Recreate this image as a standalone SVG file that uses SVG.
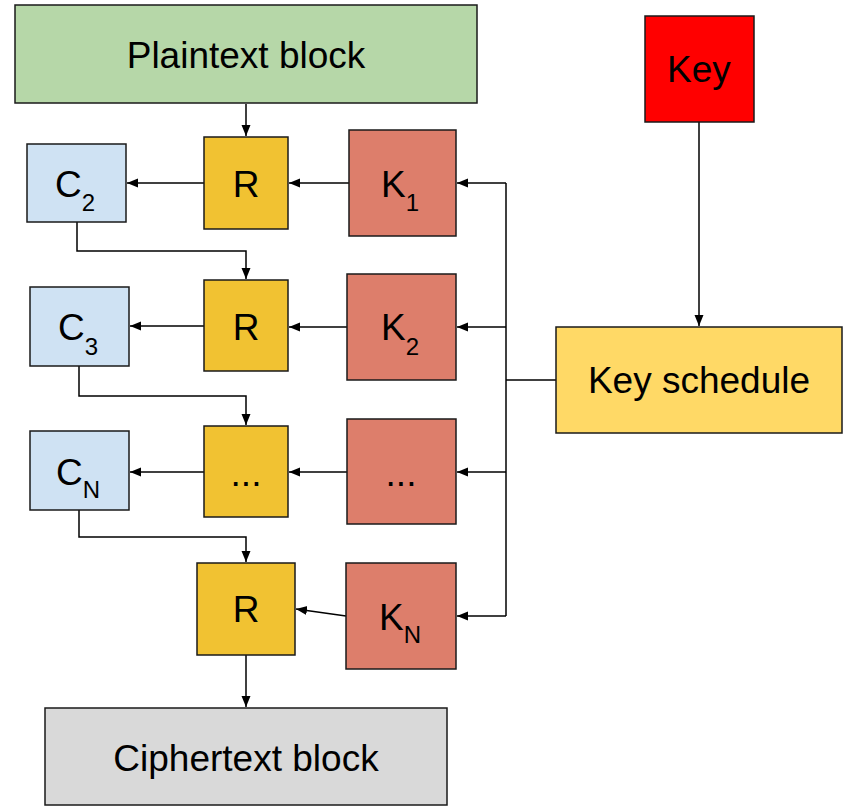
<svg xmlns="http://www.w3.org/2000/svg" width="843" height="806" viewBox="0 0 843 806">
<defs>
<style>
.box{stroke:#1a1a1a;stroke-width:1.5}
.t{font-family:"Liberation Sans",Arial,sans-serif;font-size:37px;fill:#000}
.s{font-size:24px}
.c{text-anchor:middle}
.ln{fill:none;stroke:#000;stroke-width:1.5}
.g{fill:#b6d7a8}.y{fill:#f1c232}.b{fill:#cfe2f3}.k{fill:#dd7e6b}.r{fill:#ff0000}.ks{fill:#ffd966}.gr{fill:#d9d9d9}
</style>
<marker id="a" markerUnits="userSpaceOnUse" markerWidth="11" markerHeight="10" refX="11" refY="4.5" orient="auto">
<path d="M0,0 L11,4.5 L0,9 z" fill="#000"/>
</marker>
</defs>
<rect width="843" height="806" fill="#fff"/>
<g id="connectors">
<path class="ln" d="M246,104 V136" marker-end="url(#a)"/>
<path class="ln" d="M204,183 H127" marker-end="url(#a)"/>
<path class="ln" d="M349,183 H289" marker-end="url(#a)"/>
<path class="ln" d="M77,222 V251 H246 V279" marker-end="url(#a)"/>
<path class="ln" d="M204,326 H130" marker-end="url(#a)"/>
<path class="ln" d="M347,327 H289" marker-end="url(#a)"/>
<path class="ln" d="M79,366 V396 H246 V425" marker-end="url(#a)"/>
<path class="ln" d="M204,472 H130" marker-end="url(#a)"/>
<path class="ln" d="M347,472 H289" marker-end="url(#a)"/>
<path class="ln" d="M79,510 V537 H246 V562" marker-end="url(#a)"/>
<path class="ln" d="M346,616 L296,609" marker-end="url(#a)"/>
<path class="ln" d="M246,655 V707" marker-end="url(#a)"/>
<path class="ln" d="M699,122 V326" marker-end="url(#a)"/>
<path class="ln" d="M556,380 H506"/>
<path class="ln" d="M506,183 V616"/>
<path class="ln" d="M506,183 H457" marker-end="url(#a)"/>
<path class="ln" d="M506,327 H457" marker-end="url(#a)"/>
<path class="ln" d="M506,472 H457" marker-end="url(#a)"/>
<path class="ln" d="M506,616 H457" marker-end="url(#a)"/>
</g>
<g id="plaintext"><rect class="box g" x="15" y="5" width="462" height="98"/><text class="t c" x="246" y="68">Plaintext block</text></g>
<g id="key"><rect class="box r" x="645" y="16" width="109" height="106"/><text class="t c" x="699" y="82">Key</text></g>
<g id="keyschedule"><rect class="box ks" x="556" y="327" width="286" height="106"/><text class="t c" x="699" y="393">Key schedule</text></g>
<g id="r1"><rect class="box y" x="204" y="137" width="84" height="92"/><text class="t c" x="246" y="197">R</text></g>
<g id="c2"><rect class="box b" x="27" y="144" width="99" height="78"/><text class="t" x="55" y="197">C<tspan class="s" dy="14">2</tspan></text></g>
<g id="k1"><rect class="box k" x="349" y="130" width="107" height="106"/><text class="t" x="381" y="197">K<tspan class="s" dy="14">1</tspan></text></g>
<g id="r2"><rect class="box y" x="204" y="280" width="84" height="91"/><text class="t c" x="246" y="340">R</text></g>
<g id="c3"><rect class="box b" x="30" y="287" width="99" height="79"/><text class="t" x="58" y="340">C<tspan class="s" dy="15">3</tspan></text></g>
<g id="k2"><rect class="box k" x="347" y="274" width="109" height="106"/><text class="t" x="381" y="340">K<tspan class="s" dy="15">2</tspan></text></g>
<g id="r3"><rect class="box y" x="204" y="426" width="84" height="91"/><text class="t c" x="246" y="486">...</text></g>
<g id="cn"><rect class="box b" x="30" y="431" width="99" height="79"/><text class="t" x="56" y="485">C<tspan class="s" dy="13">N</tspan></text></g>
<g id="k3"><rect class="box k" x="347" y="419" width="109" height="105"/><text class="t c" x="401" y="486">...</text></g>
<g id="r4"><rect class="box y" x="197" y="563" width="98" height="92"/><text class="t c" x="246" y="622">R</text></g>
<g id="kn"><rect class="box k" x="346" y="563" width="110" height="106"/><text class="t" x="379" y="630">K<tspan class="s" dy="13">N</tspan></text></g>
<g id="ciphertext"><rect class="box gr" x="45" y="708" width="402" height="97"/><text class="t c" x="246" y="771">Ciphertext block</text></g>
</svg>
